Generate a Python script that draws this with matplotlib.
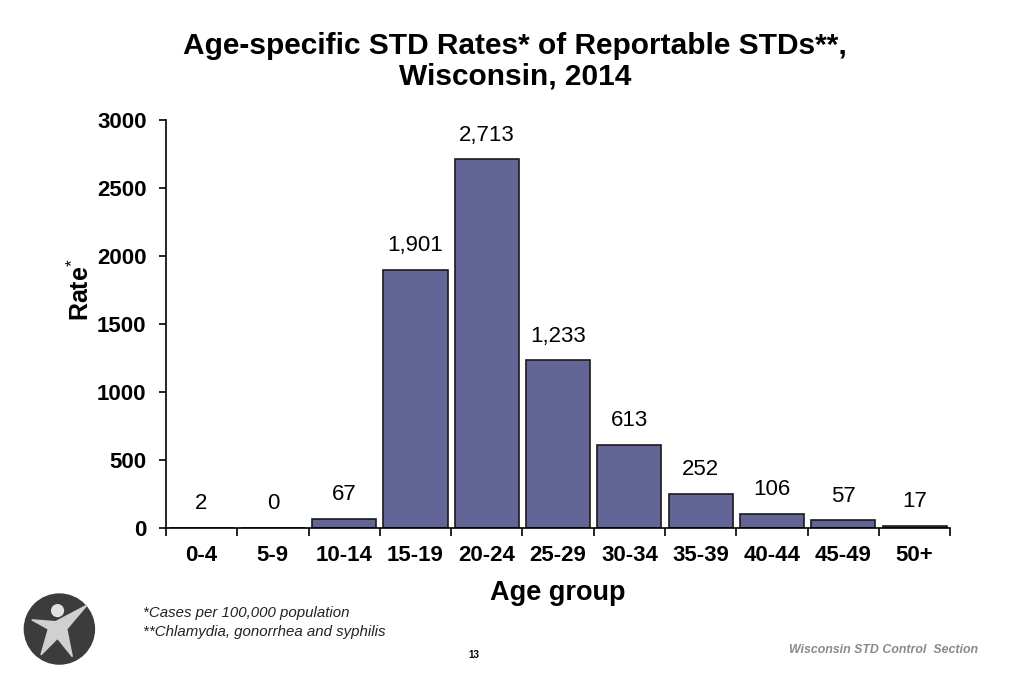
import matplotlib
matplotlib.use('Agg')
import matplotlib.pyplot as plt
from matplotlib.patches import Circle, Polygon
import numpy as np

plt.rcParams['font.family'] = ['Liberation Sans', 'DejaVu Sans']
plt.rcParams['mathtext.fontset'] = 'custom'
plt.rcParams['mathtext.rm'] = 'Liberation Sans'
plt.rcParams['mathtext.bf'] = 'Liberation Sans:bold'

# data
age_groups = ['0-4', '5-9', '10-14', '15-19', '20-24', '25-29', '30-34',
              '35-39', '40-44', '45-49', '50+']
rates = [2, 0, 67, 1901, 2713, 1233, 613, 252, 106, 57, 17]
y_ticks = [0, 500, 1000, 1500, 2000, 2500, 3000]

fig = plt.figure(figsize=(10.24, 6.83), dpi=100)
ax = fig.add_axes([0.162, 0.227, 0.766, 0.597])

x = np.arange(len(age_groups))
ax.bar(x, rates, width=0.9, color='#646597', edgecolor='#1a1a1a', linewidth=1.2)

for xi, r in zip(x, rates):
    ax.text(xi, r + 100, f'{r:,}', ha='center', va='bottom', fontsize=16)

ax.set_xlim(-0.5, len(age_groups) - 0.5)
ax.set_ylim(0, 3000)
ax.set_yticks(y_ticks)
ax.set_yticklabels([str(t) for t in y_ticks], fontsize=16, fontweight='bold')
ax.set_xticks(x)
ax.set_xticklabels(age_groups, fontsize=16, fontweight='bold')
ax.tick_params(axis='x', length=0, pad=12)
ax.set_xticks(np.arange(-0.5, len(age_groups)), minor=True)
ax.tick_params(axis='x', which='minor', length=6, width=1.2, direction='out')
ax.tick_params(axis='y', length=5, width=1.2, direction='out', pad=9)

for s in ['top', 'right']:
    ax.spines[s].set_visible(False)
ax.spines['left'].set_linewidth(1.2)
ax.spines['bottom'].set_linewidth(1.2)

ax.set_xlabel('Age group', fontsize=19.5, fontweight='bold', labelpad=10)
ax.set_ylabel(r'Rate$^{*}$', fontsize=18, fontweight='bold')
ax.yaxis.set_label_coords(-0.092, 0.585)

fig.text(0.503, 0.91, 'Age-specific STD Rates* of Reportable STDs**,\nWisconsin, 2014',
         ha='center', va='center', fontsize=21.5, fontweight='bold', linespacing=1.1)

fig.text(0.140, 0.102, '*Cases per 100,000 population', fontsize=10.8, style='italic',
         ha='left', va='center', color='#222222')
fig.text(0.140, 0.074, '**Chlamydia, gonorrhea and syphilis', fontsize=10.8, style='italic',
         ha='left', va='center', color='#222222')
fig.text(0.463, 0.041, '13', fontsize=7, fontweight='bold', ha='center', va='center')
fig.text(0.955, 0.048, 'Wisconsin STD Control  Section', fontsize=8.9, style='italic',
         fontweight='bold', color='#8a8a8a', ha='right', va='center')

# simple logo
lax = fig.add_axes([0.022, 0.025, 0.072, 0.108])
lax.set_xlim(-1, 1)
lax.set_ylim(-1, 1)
lax.set_aspect('equal')
lax.axis('off')
lax.add_patch(Circle((0, 0), 0.95, color='#3c3c3c'))
lax.add_patch(Polygon([(-0.75, 0.25), (-0.1, 0.2), (0.75, 0.65), (0.2, 0.0),
                       (0.35, -0.75), (-0.05, -0.25), (-0.5, -0.7), (-0.3, 0.0)],
                      closed=True, color='#d0d0d0'))
lax.add_patch(Circle((-0.05, 0.5), 0.16, color='#e0e0e0'))

fig.savefig('out.png', dpi=100)
